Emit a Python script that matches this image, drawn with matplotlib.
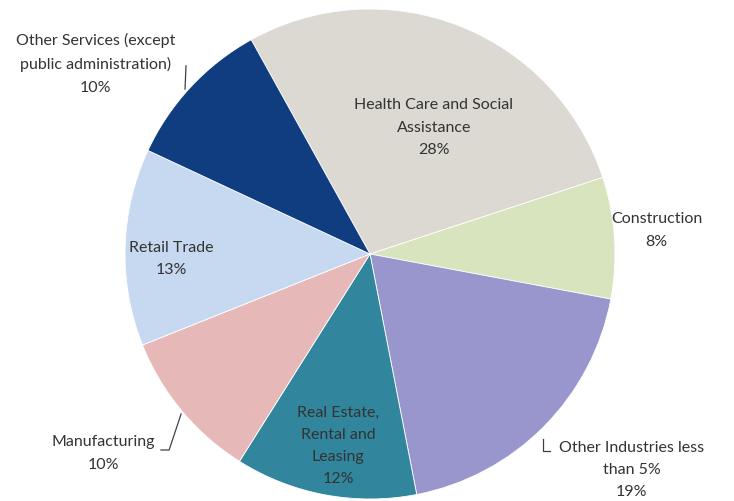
import matplotlib
matplotlib.use("Agg")
import matplotlib.pyplot as plt

# industry shares, clockwise from the top
industries = [
    "Health Care and Social\nAssistance",
    "Construction",
    "Other Industries less\nthan 5%",
    "Real Estate,\nRental and\nLeasing",
    "Manufacturing",
    "Retail Trade",
    "Other Services (except\npublic administration)",
]
shares = [28, 8, 19, 12, 10, 13, 10]
colors = ["#DCD9D3", "#D7E4BD", "#9896CC", "#31859C", "#E6B9B8", "#C6D9F1", "#0F3D7F"]

# label centres and leader lines (data units, pie radius = 1)
label_pos = [(0.26, 0.52), (1.17, 0.10), (1.067, -0.878), (-0.13, -0.78),
             (-1.09, -0.81), (-0.81, -0.015), (-1.12, 0.78)]
leaders = {
    2: [(0.706, -0.755), (0.706, -0.804), (0.735, -0.804)],
    4: [(-0.853, -0.800), (-0.820, -0.800), (-0.771, -0.653)],
    6: [(-0.751, 0.768), (-0.755, 0.673)],
}

fig = plt.figure(figsize=(7.34, 5.02), dpi=100)
ax = fig.add_axes([125 / 734, 2 / 502, 490 / 734, 490 / 502])

ax.pie(shares, colors=colors, startangle=119, counterclock=False, radius=1,
       wedgeprops=dict(edgecolor="white", linewidth=0.6))
ax.set_xlim(-1, 1)
ax.set_ylim(-1, 1)
ax.set_aspect("equal")
ax.axis("off")

for i, (name, val) in enumerate(zip(industries, shares)):
    x, y = label_pos[i]
    ax.text(x, y, f"{name}\n{val}%", ha="center", va="center", fontsize=11.5,
            family="Lato", color="#333333", linespacing=1.75, clip_on=False)
    if i in leaders:
        xs, ys = zip(*leaders[i])
        ax.plot(xs, ys, color="#404040", lw=0.9, clip_on=False)

fig.savefig("out.png", dpi=100, facecolor="white")
